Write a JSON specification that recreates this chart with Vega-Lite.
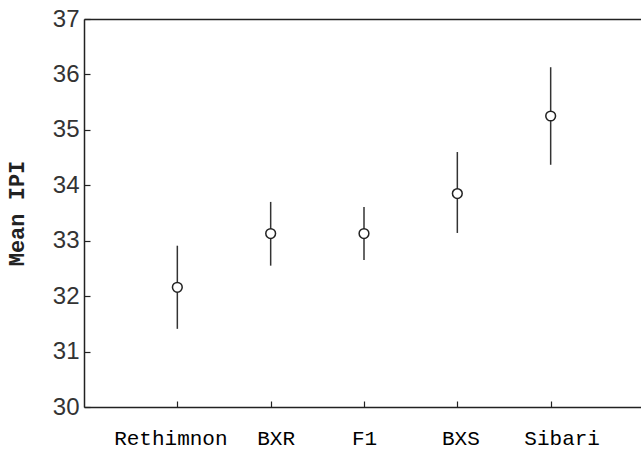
{
  "$schema": "https://vega.github.io/schema/vega-lite/v6.json",
  "autosize": {"type": "none"},
  "padding": {"left": 84, "top": 19, "right": 0, "bottom": 42},
  "width": 560,
  "height": 388,
  "background": "white",
  "config": {
    "view": {"stroke": null},
    "axis": {"grid": false, "domainColor": "#222", "domainWidth": 1.5, "tickColor": "#222", "tickWidth": 1.2}
  },
  "data": {
    "values": [
      {"strain": "Rethimnon", "mean": 32.16, "lo": 31.41, "hi": 32.91},
      {"strain": "BXR", "mean": 33.13, "lo": 32.55, "hi": 33.7},
      {"strain": "F1", "mean": 33.13, "lo": 32.65, "hi": 33.61},
      {"strain": "BXS", "mean": 33.85, "lo": 33.14, "hi": 34.6},
      {"strain": "Sibari", "mean": 35.25, "lo": 34.37, "hi": 36.13}
    ]
  },
  "resolve": {"axis": {"x": "independent"}},
  "layer": [
    {
      "mark": {"type": "rule", "color": "#333", "strokeWidth": 1.5},
      "encoding": {
        "x": {
          "field": "strain", "type": "ordinal", "sort": null,
          "scale": {"type": "point", "padding": 1},
          "axis": {
            "orient": "bottom", "title": null, "labelAngle": 0,
            "tickSize": -6, "labelPadding": 26,
            "labelOffset": {"expr": "datum.value == 'Sibari' ? 11 : datum.value == 'Rethimnon' ? -7 : datum.value == 'BXR' ? 5 : datum.value == 'BXS' ? 3 : 0"},
            "labelFont": "Liberation Mono", "labelFontSize": 21, "labelFontWeight": "normal", "labelColor": "#000"
          }
        },
        "y": {
          "field": "lo", "type": "quantitative",
          "scale": {"domain": [30, 37], "nice": false, "zero": false},
          "axis": {
            "title": "Mean IPI", "values": [30, 31, 32, 33, 34, 35, 36, 37], "format": "d",
            "tickSize": -6, "labelPadding": 11,
            "labelFont": "Liberation Sans", "labelFontSize": 24, "labelFontWeight": "normal", "labelColor": "#333",
            "titleFont": "Liberation Mono", "titleFontSize": 22, "titleFontWeight": "bold", "titleColor": "#222", "titlePadding": 24
          }
        },
        "y2": {"field": "hi"}
      }
    },
    {
      "mark": {"type": "point", "shape": "circle", "filled": true, "fill": "white", "stroke": "#222", "strokeWidth": 1.5, "size": 95, "opacity": 1},
      "encoding": {
        "x": {
          "field": "strain", "type": "ordinal", "sort": null,
          "axis": {"orient": "top", "title": null, "labels": false, "ticks": false, "domain": true}
        },
        "y": {"field": "mean", "type": "quantitative"}
      }
    }
  ]
}
